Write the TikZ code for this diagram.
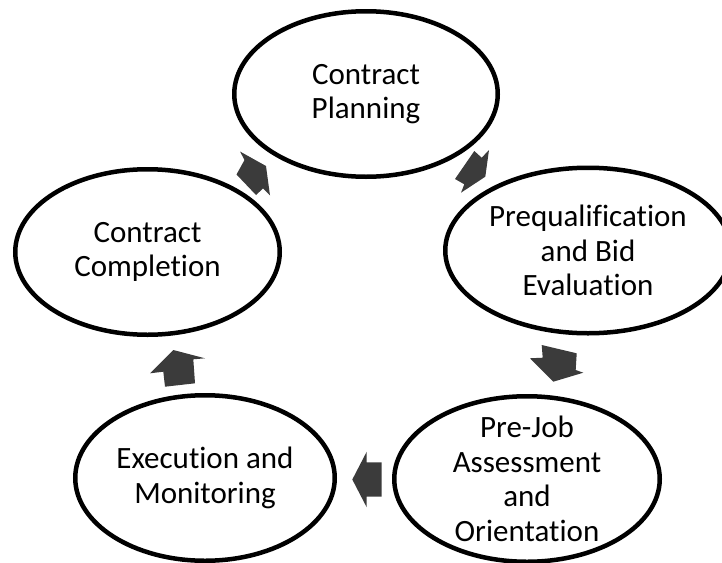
\documentclass[tikz,border=0pt]{standalone}
\usepackage{fontspec}
\setmainfont{Carlito}[Ligatures=NoCommon]
\usetikzlibrary{shapes.geometric}

\definecolor{arrowgray}{HTML}{3B3B3B}

\tikzset{
  stage/.style={draw=black, line width=4.5pt, ellipse, inner sep=0pt,
                minimum width=#1, minimum height=165.5pt},
  stagetext/.style={align=center, inner sep=0pt,
                    font=\fontsize{31}{34.5}\selectfont},
  blockarrow/.style={fill=arrowgray, draw=none}
}

\begin{document}
\begin{tikzpicture}[x=1pt, y=-1pt]
  % page frame
  \useasboundingbox (0,0) rectangle (722,562);

  % the five stages of the cycle
  \node[stage=263.5pt] (plan)  at (366,94)    {};
  \node[stage=285.5pt] (preq)  at (588,250.5) {};
  \node[stage=265.5pt] (prej)  at (527,479)   {};
  \node[stage=259.5pt] (exec)  at (205,478)   {};
  \node[stage=264.5pt] (compl) at (147.5,252) {};

  \node[stagetext] (plan-t)  at (plan)  {Contract\\Planning};
  \node[stagetext] (preq-t)  at (preq)  {Prequalification\\and Bid\\Evaluation};
  \node[stagetext] (prej-t)  at (prej)  {Pre-Job\\Assessment\\and\\Orientation};
  \node[stagetext] (exec-t)  at (exec)  {Execution and\\Monitoring};
  \node[stagetext] (compl-t) at (compl) {Contract\\Completion};

  % block arrows running clockwise round the cycle
  \fill[blockarrow] (474.3,151) -- (481.7,157.7) -- (489,150) -- (485.3,176.7)
    -- (461,192.7) -- (464.3,184.3) -- (455,179) -- cycle;
  \fill[blockarrow] (541.7,345) -- (576.7,353.3) -- (575.7,370) -- (583.3,372.7)
    -- (553.3,381.7) -- (530,358.3) -- (542.7,357.7) -- cycle;
  \fill[blockarrow] (352.3,479.5) -- (366.7,451.7) -- (366.7,462.4) -- (381.5,462.4)
    -- (381.5,496.6) -- (366.7,496.6) -- (366.7,507.3) -- cycle;
  \fill[blockarrow] (173.3,350) -- (205,358.3) -- (193.3,359.3) -- (195,383.3)
    -- (165,386.7) -- (163.3,371.7) -- (150,373.3) -- cycle;
  \fill[blockarrow] (240,151.5) -- (266,166) -- (270,195.5) -- (263,188.5)
    -- (256,195) -- (236.5,174.5) -- (244.5,160) -- cycle;
\end{tikzpicture}
\end{document}
